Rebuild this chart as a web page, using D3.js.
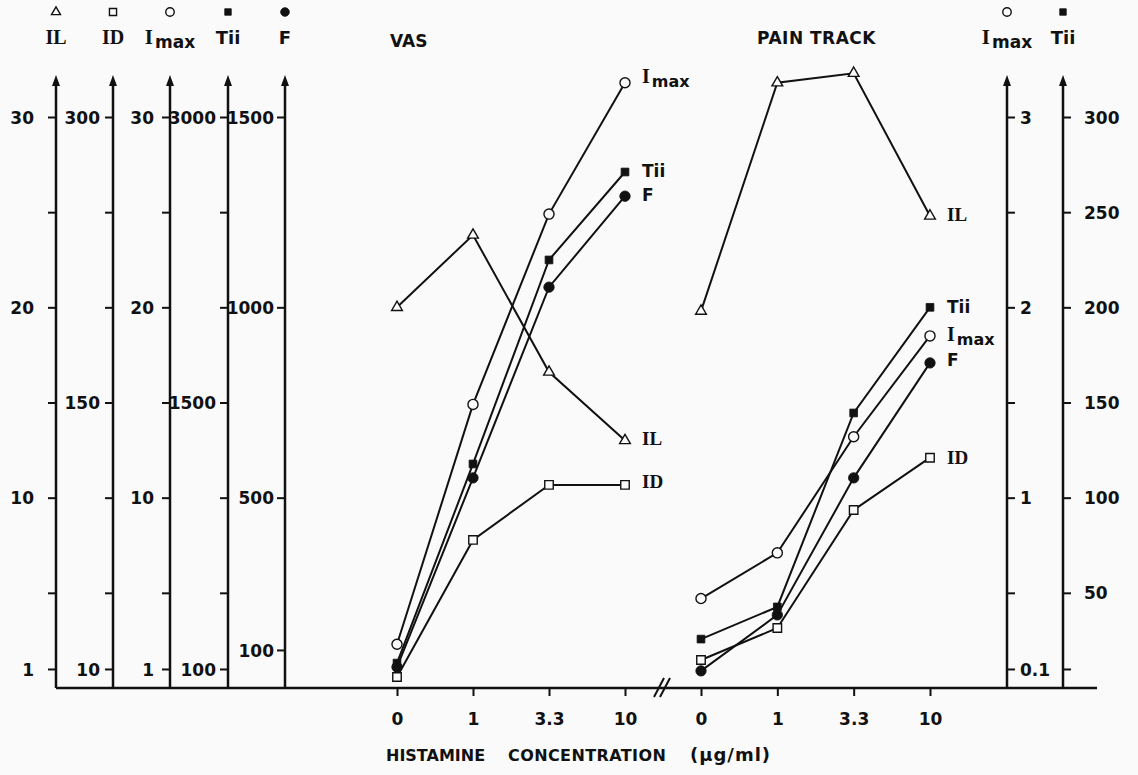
<!DOCTYPE html>
<meta charset="utf-8">
<script src="https://d3js.org/d3.v7.min.js"></script>
<style>
  body { margin: 0; background: #fafafa; }
</style>
<div id="chart"></div>
<script>

// Histamine concentrations (µg/ml) on the x axis of both panels
var concentrations = ["0", "1", "3.3", "10"];

// VAS panel, each series in the units of its own left axis
var vasIL   = [20, 23.8, 16.6, 13.0];
var vasID   = [5.8, 77.8, 106.7, 106.7];
var vasImax = [2.3, 14.9, 24.9, 31.8];
var vasTii  = [131, 1177, 2249, 2711];
var vasF    = [55, 552, 1053, 1292];

// PAIN TRACK panel (Imax and Tii read on the right axes)
var painIL   = [19.8, 31.8, 32.3, 24.8];
var painID   = [14.7, 31.5, 93.5, 121];
var painImax = [0.47, 0.71, 1.32, 1.85];
var painTii  = [25.7, 42.6, 144.5, 200];
var painF    = [45, 192, 552, 854];

// Axis ticks and the ones that carry a label
var ilTicks = [1, 5, 10, 15, 20, 25, 30],           ilLabels = [1, 10, 20, 30];
var idTicks = [10, 50, 100, 150, 200, 250, 300],    idLabels = [10, 150, 300];
var imaxTicks = [1, 5, 10, 15, 20, 25, 30],         imaxLabels = [1, 10, 20, 30];
var tiiTicks = [100, 500, 1000, 1500, 2000, 2500, 3000], tiiLabels = [100, 1500, 3000];
var fTicks = [100, 500, 1000, 1500],                fLabels = [100, 500, 1000, 1500];
var imaxRTicks = [0.1, 0.5, 1, 1.5, 2, 2.5, 3],     imaxRLabels = [0.1, 1, 2, 3];
var tiiRTicks = [10, 50, 100, 150, 200, 250, 300],  tiiRLabels = [50, 100, 150, 200, 250, 300];

var W = 1138, H = 775;
var base = 688, topTick = 117, axisTop = 75;
var ink = "#111", paper = "#fafafa";
var sans = "'DejaVu Sans', sans-serif";
var serif = "'Liberation Serif', serif";

var svg = d3.select("#chart").append("svg")
    .attr("width", W)
    .attr("height", H);

svg.append("rect").attr("width", W).attr("height", H).attr("fill", paper);

function yScale(max) {
  return d3.scaleLinear().domain([0, max]).range([base, topTick]);
}
var y = {
  IL: yScale(30), ID: yScale(300), Imax: yScale(30), Tii: yScale(3000), F: yScale(1500),
  ImaxR: yScale(3), TiiR: yScale(300)
};

var xVas = d3.scalePoint().domain(concentrations).range([397, 625]);
var xPain = d3.scalePoint().domain(concentrations).range([701, 930]);

// series label text: serif for IL / ID / the "I" of Imax
function label(sel, name, size) {
  var t = sel.append("text").attr("fill", ink);
  if (name === "Imax") {
    t.append("tspan").attr("font-family", serif).attr("font-weight", "bold")
      .attr("font-size", size + 3).text("I");
    t.append("tspan").attr("font-family", sans).attr("font-weight", "bold")
      .attr("font-size", size - 1).attr("dx", 2).attr("dy", 4).text("max");
  } else if (name === "IL" || name === "ID") {
    t.attr("font-family", serif).attr("font-weight", "bold").attr("font-size", size + 2).text(name);
  } else {
    t.attr("font-family", sans).attr("font-weight", "bold").attr("font-size", size).text(name);
  }
  return t;
}

// marker shapes
var shapes = {
  IL:   {type: d3.symbolTriangle, filled: false},
  ID:   {type: d3.symbolSquare,   filled: false},
  Imax: {type: d3.symbolCircle,   filled: false},
  Tii:  {type: d3.symbolSquare,   filled: true},
  F:    {type: d3.symbolCircle,   filled: true}
};
var markerSize = {IL: 50, ID: 72, Imax: 80, Tii: 60, F: 85};

function marker(sel, name, x, yy, k) {
  var s = shapes[name];
  sel.append("path")
    .attr("d", d3.symbol().type(s.type).size(markerSize[name] * (k || 1))())
    .attr("transform", "translate(" + x + "," + yy + ")")
    .attr("fill", s.filled ? ink : paper)
    .attr("stroke", ink)
    .attr("stroke-width", s.filled ? 0.8 : 1.4);
}

// vertical axes with arrow heads
function drawAxis(cfg) {
  var ax = (cfg.right ? d3.axisRight(cfg.s) : d3.axisLeft(cfg.s))
    .tickValues(cfg.ticks)
    .tickSize(8)
    .tickPadding(cfg.pad)
    .tickFormat(function(d) { return cfg.labels.indexOf(d) >= 0 ? d : ""; });
  var g = svg.append("g")
    .attr("transform", "translate(" + cfg.x + ",0)")
    .call(ax);
  g.select(".domain").remove();
  g.selectAll(".tick line").attr("stroke", ink).attr("stroke-width", 2);
  g.selectAll(".tick text")
    .attr("fill", ink)
    .attr("font-family", sans)
    .attr("font-weight", "bold")
    .attr("font-size", 17)
    .attr("dy", "0.36em");
  g.append("line")
    .attr("y1", base).attr("y2", axisTop + 8)
    .attr("stroke", ink).attr("stroke-width", 2.5);
  g.append("path")
    .attr("d", "M0," + axisTop + "L-4," + (axisTop + 11) + "L4," + (axisTop + 11) + "Z")
    .attr("fill", ink);
  // legend above the axis
  marker(svg, cfg.name, cfg.x, 12, 0.7);
  label(svg, cfg.name, 18).attr("x", cfg.x).attr("y", 44).attr("text-anchor", "middle");
}

[
  {name: "IL",   s: y.IL,   x: 56,  ticks: ilTicks,   labels: ilLabels,   pad: 14},
  {name: "ID",   s: y.ID,   x: 113, ticks: idTicks,   labels: idLabels,   pad: 5},
  {name: "Imax", s: y.Imax, x: 170, ticks: imaxTicks, labels: imaxLabels, pad: 8},
  {name: "Tii",  s: y.Tii,  x: 228, ticks: tiiTicks,  labels: tiiLabels,  pad: 4},
  {name: "F",    s: y.F,    x: 285, ticks: fTicks,    labels: fLabels,    pad: 3},
  {name: "Imax", s: y.ImaxR, x: 1007, ticks: imaxRTicks, labels: imaxRLabels, pad: 5, right: true},
  {name: "Tii",  s: y.TiiR,  x: 1063, ticks: tiiRTicks,  labels: tiiRLabels,  pad: 13, right: true}
].forEach(drawAxis);

// baseline and break mark
svg.append("line")
  .attr("x1", 56).attr("x2", 1097).attr("y1", base).attr("y2", base)
  .attr("stroke", ink).attr("stroke-width", 2.5);
[0, 6].forEach(function(dx) {
  svg.append("line")
    .attr("x1", 654 + dx).attr("y1", base + 9)
    .attr("x2", 664 + dx).attr("y2", base - 10)
    .attr("stroke", ink).attr("stroke-width", 2);
});

// x axes
[xVas, xPain].forEach(function(x) {
  var g = svg.append("g")
    .attr("transform", "translate(0," + base + ")")
    .call(d3.axisBottom(x).tickSize(8).tickPadding(17));
  g.select(".domain").remove();
  g.selectAll(".tick line").attr("stroke", ink).attr("stroke-width", 2);
  g.selectAll(".tick text")
    .attr("fill", ink)
    .attr("font-family", sans)
    .attr("font-weight", "bold")
    .attr("font-size", 17);
});

// axis title
var title = svg.append("text")
  .attr("x", 386).attr("y", 761)
  .attr("fill", ink)
  .attr("font-family", sans)
  .attr("font-weight", "bold")
  .attr("font-size", 16);
title.append("tspan").text("HISTAMINE");
title.append("tspan").attr("x", 508).attr("letter-spacing", 0.4).text("CONCENTRATION");
title.append("tspan").attr("x", 690).attr("font-size", 18).attr("letter-spacing", 1).text("(µg/ml)");

// panel titles
svg.append("text").attr("x", 390).attr("y", 47)
  .attr("fill", ink).attr("font-family", sans).attr("font-weight", "bold")
  .attr("font-size", 17).text("VAS");
svg.append("text").attr("x", 757).attr("y", 44)
  .attr("fill", ink).attr("font-family", sans).attr("font-weight", "bold")
  .attr("font-size", 17).attr("letter-spacing", 0.5).text("PAIN TRACK");

// data series
var panels = [
  {x: xVas, series: [
    {name: "IL", values: vasIL, y: y.IL, dy: 4},
    {name: "ID", values: vasID, y: y.ID, dy: 3},
    {name: "Imax", values: vasImax, y: y.Imax, dy: 0},
    {name: "Tii", values: vasTii, y: y.Tii, dy: 5},
    {name: "F", values: vasF, y: y.F, dy: 5}
  ]},
  {x: xPain, series: [
    {name: "IL", values: painIL, y: y.IL, dy: 5},
    {name: "ID", values: painID, y: y.ID, dy: 6},
    {name: "Imax", values: painImax, y: y.ImaxR, dy: 5},
    {name: "Tii", values: painTii, y: y.TiiR, dy: 6},
    {name: "F", values: painF, y: y.F, dy: 3}
  ]}
];

panels.forEach(function(p) {
  p.series.forEach(function(s) {
    var line = d3.line()
      .x(function(d, i) { return p.x(concentrations[i]); })
      .y(function(d) { return s.y(d); });
    svg.append("path")
      .attr("d", line(s.values))
      .attr("fill", "none")
      .attr("stroke", ink)
      .attr("stroke-width", 2);
  });
  p.series.forEach(function(s) {
    s.values.forEach(function(v, i) {
      marker(svg, s.name, p.x(concentrations[i]), s.y(v));
    });
    var last = s.values[s.values.length - 1];
    label(svg, s.name, 17)
      .attr("x", p.x("10") + 17)
      .attr("y", s.y(last) + s.dy);
  });
});

</script>
